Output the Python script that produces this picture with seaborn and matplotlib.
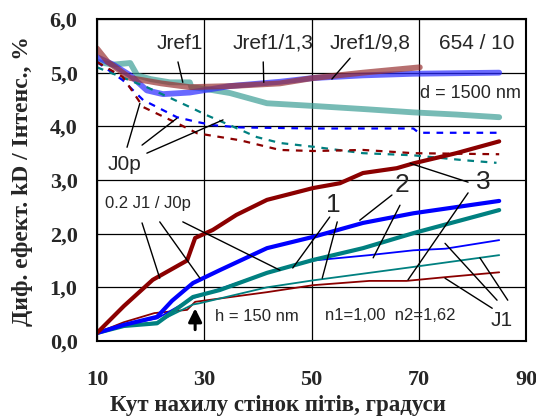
import numpy as np
import pandas as pd
import seaborn as sns
import matplotlib.pyplot as plt

# upper curves (reference intensities)
x_jref1 = [10, 13, 16.2, 17.5, 20, 23.6, 27.3, 27.6, 30, 34.8, 41.7, 50.3, 60, 69, 77, 85]
y_jref1 = [5.2, 5.15, 5.18, 4.95, 4.88, 4.82, 4.82, 4.73, 4.7, 4.62, 4.43, 4.38, 4.32, 4.26, 4.22, 4.17]
x_jref13 = [10, 13, 16.2, 19.3, 22.3, 27.3, 34.8, 44.1, 50.3, 59.6, 69, 85]
y_jref13 = [5.29, 5.15, 4.95, 4.67, 4.6, 4.63, 4.75, 4.83, 4.9, 4.95, 4.98, 5.0]
x_jref98 = [10, 12, 16.2, 22, 27.3, 34.8, 44.1, 50.3, 59.6, 70.2]
y_jref98 = [5.45, 5.2, 4.9, 4.8, 4.73, 4.75, 4.8, 4.9, 5.0, 5.1]

# J0p dashed
x_j0p_b = [10, 14.8, 18.6, 24.9, 28.7, 31.8, 36.7, 50, 69, 70, 85]
y_j0p_b = [5.2, 4.86, 4.49, 4.17, 4.08, 4.02, 3.98, 3.96, 3.96, 3.88, 3.88]
x_j0p_t = [10, 19.3, 27.3, 30.4, 34.8, 39.8, 44.1, 50.3, 59.6, 69, 78.3, 84.5]
y_j0p_t = [5.1, 4.73, 4.36, 4.21, 4.02, 3.8, 3.69, 3.62, 3.5, 3.46, 3.37, 3.32]
x_j0p_r = [10, 14.8, 18.6, 24.9, 28.7, 36.7, 44.1, 50.3, 59.6, 69, 85]
y_j0p_r = [5.2, 4.92, 4.36, 4.06, 3.87, 3.74, 3.56, 3.54, 3.56, 3.5, 3.48]

# 0.2 J1/J0p thick
x_k3 = [10, 15, 20.4, 26.8, 28.3, 31.6, 36, 41.7, 50.3, 55.3, 59.6, 65.9, 69, 77, 85]
y_k3 = [0.15, 0.65, 1.14, 1.5, 1.92, 2.07, 2.35, 2.63, 2.85, 2.94, 3.13, 3.22, 3.31, 3.5, 3.72]
x_k1 = [10, 15, 21.2, 24, 27.9, 32.9, 41.7, 50.3, 59.6, 69, 85]
y_k1 = [0.15, 0.3, 0.45, 0.75, 1.08, 1.32, 1.73, 1.94, 2.2, 2.38, 2.61]
x_k2 = [10, 15, 21.2, 27.9, 32.9, 41.7, 50.3, 59.6, 69, 85]
y_k2 = [0.15, 0.28, 0.33, 0.82, 0.95, 1.27, 1.51, 1.73, 2.01, 2.44]

# J1 thin
x_j1_b = [10, 15, 21.2, 27.9, 41.7, 50.3, 60.8, 69, 75, 85]
y_j1_b = [0.15, 0.3, 0.42, 0.8, 1.27, 1.5, 1.6, 1.69, 1.72, 1.88]
x_j1_t = [10, 15, 21.2, 27.9, 29, 41.7, 50.3, 69, 85]
y_j1_t = [0.15, 0.28, 0.35, 0.68, 0.7, 1.0, 1.13, 1.38, 1.6]
x_j1_r = [10, 15, 20.7, 26.8, 28.3, 41.7, 50.3, 60.8, 67.7, 75, 85]
y_j1_r = [0.15, 0.35, 0.52, 0.58, 0.73, 0.91, 1.04, 1.12, 1.12, 1.19, 1.28]

x_zero = [10, 85]
y_zero = [0, 0]

sns.set_style('white')
plt.rcParams['font.family'] = ['Liberation Serif', 'DejaVu Serif']

fig = plt.figure(figsize=(5.36, 4.19), dpi=100)
ax = fig.add_axes([97/536, 1-341/419, 429/536, 322/419])

def line(x, y, color, lw, alpha=1.0, dashes=None):
    sns.lineplot(x=x, y=y, color=color, lw=lw, alpha=alpha, ax=ax,
                 sort=False, estimator=None)
    if dashes is not None:
        ax.lines[-1].set_dashes(dashes)

line(x_zero, y_zero, '#7fb3e6', 2)
line(x_jref1, y_jref1, '#3d9e96', 4.2, alpha=0.7)
line(x_jref13, y_jref13, '#2a2aff', 4.2, alpha=0.7)
line(x_jref98, y_jref98, '#993333', 4.2, alpha=0.7)
line(x_j0p_b, y_j0p_b, '#0000ff', 1.6, dashes=(3, 3))
line(x_j0p_t, y_j0p_t, '#008080', 1.6, dashes=(3, 3))
line(x_j0p_r, y_j0p_r, '#8b0000', 1.6, dashes=(3, 3))
line(x_j1_r, y_j1_r, '#8b0000', 1.3)
line(x_j1_t, y_j1_t, '#008080', 1.3)
line(x_j1_b, y_j1_b, '#0000ff', 1.3)
line(x_k2, y_k2, '#008080', 3)
line(x_k1, y_k1, '#0000ff', 3)
line(x_k3, y_k3, '#8b0000', 3)

ax.set_xlim(10, 90)
ax.set_ylim(0, 6)
ax.set_xticks([10, 30, 50, 70, 90])
ax.set_xticks(range(10, 91, 10), minor=True)
ax.set_yticks(np.arange(0, 6.1, 1))
ax.set_xticklabels(['10', '30', '50', '70', '90'])
ax.set_yticklabels(['0,0', '1,0', '2,0', '3,0', '4,0', '5,0', '6,0'])
ax.tick_params(axis='both', direction='in', length=4, width=1, labelsize=16)
ax.tick_params(axis='x', which='minor', direction='in', length=3)
ax.tick_params(axis='x', pad=21)
ax.tick_params(axis='y', pad=14)
for t in ax.get_xticklabels() + ax.get_yticklabels():
    t.set_fontweight('bold')
ax.grid(True, which='major', color='black', lw=0.9)
for s in ax.spines.values():
    s.set_linewidth(1.5)
    s.set_color('black')
ax.set_xlabel('Кут нахилу стінок пітів, градуси', fontsize=16.5, fontweight='bold')
ax.set_ylabel('Диф. ефект. kD / Iнтенс., %', fontsize=17, fontweight='bold')
ax.xaxis.set_label_coords(0.422, -0.168)
ax.yaxis.set_label_coords(-0.15, 0.497)

nf = ['Liberation Sans', 'DejaVu Sans']
labels = [('Jref1', 25.5, 5.55, 15), ('Jref1/1,3', 42.8, 5.55, 15), ('Jref1/9,8', 60.9, 5.55, 15),
          ('654 / 10', 80.9, 5.55, 15), ('d = 1500 nm', 79.6, 4.62, 13), ('J0p', 15.2, 3.28, 15),
          ('0.2 J1 / J0p', 19.5, 2.57, 12), ('1', 54.0, 2.53, 19), ('2', 66.9, 2.9, 19),
          ('3', 82.0, 2.96, 19), ('h = 150 nm', 39.8, 0.45, 12),
          ('n1=1,00  n2=1,62', 64.6, 0.48, 12), ('J1', 85.5, 0.39, 15)]
for txt, tx, ty, fs in labels:
    ax.text(tx, ty, txt, family=nf, fontsize=fs, ha='center', va='center')

leaders = [((25.1, 5.20), (26.0, 4.82)), ((41.0, 5.20), (41.1, 4.82)),
           ((57.2, 5.27), (53.8, 4.88)),
           ((15.6, 3.61), (18.0, 4.43)), ((18.4, 3.65), (24.9, 4.15)), ((19.3, 3.50), (33.5, 4.12)),
           ((68.4, 3.31), (79.2, 2.96)), ((79.2, 2.76), (68.0, 1.14)),
           ((18.4, 2.20), (21.7, 1.17)), ((21.7, 2.22), (29.2, 1.17)), ((26.0, 2.22), (44.1, 1.32)),
           ((53.4, 2.31), (46.5, 1.36)), ((54.8, 2.22), (52.0, 1.17)),
           ((65.0, 2.72), (59.0, 2.25)), ((66.5, 2.53), (61.5, 1.55)),
           ((83.7, 0.61), (74.9, 1.17)), ((84.6, 0.76), (74.9, 1.82)), ((86.6, 0.76), (81.4, 1.55))]
for (a, b) in leaders:
    ax.plot([a[0], b[0]], [a[1], b[1]], color='black', lw=1)

# arrow marking the pit depth position
ax.annotate('', xy=(28.3, 0.66), xytext=(28.3, 0.16),
            arrowprops=dict(arrowstyle='-|>', color='black', lw=2.2, mutation_scale=20))

fig.savefig('out.png', dpi=100)
